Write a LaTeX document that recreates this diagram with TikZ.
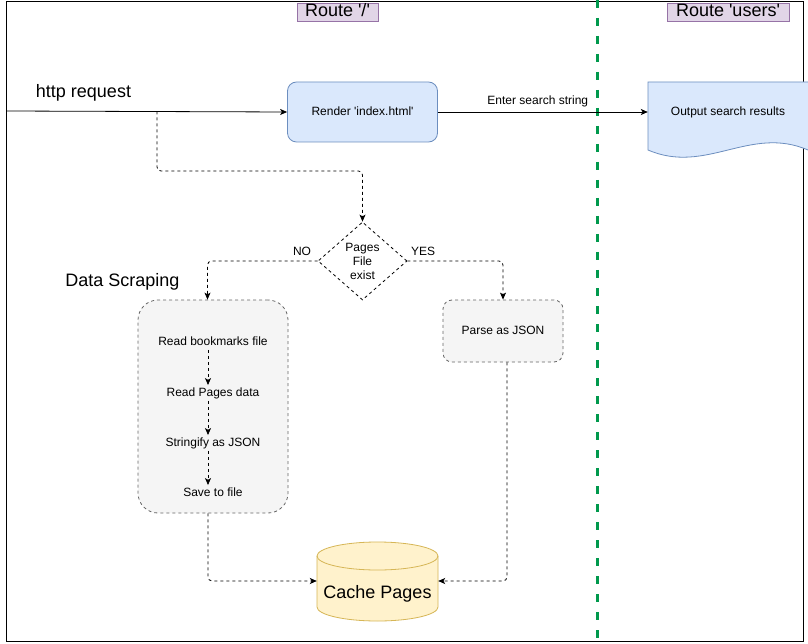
\documentclass[tikz,border=0pt]{standalone}
\usepackage{fontspec}
\setmainfont{Liberation Sans}[Ligatures=TeXOff]
\usetikzlibrary{shapes.geometric,arrows.meta}
\definecolor{bluefill}{HTML}{DAE8FC}
\definecolor{bluedraw}{HTML}{6C8EBF}
\definecolor{yelfill}{HTML}{FFF2CC}
\definecolor{yeldraw}{HTML}{D6B656}
\definecolor{purfill}{HTML}{E1D5E7}
\definecolor{purdraw}{HTML}{9673A6}
\definecolor{grayfill}{HTML}{F5F5F5}
\definecolor{graydraw}{HTML}{666666}
\definecolor{lanegreen}{HTML}{00994D}
\tikzset{
  small/.style={font=\fontsize{12}{14}\selectfont, text height=9pt, text depth=2.5pt, inner sep=2pt},
  big/.style={font=\fontsize{18}{21}\selectfont, inner sep=0pt},
  routebox/.style={big, draw=purdraw, fill=purfill, line width=0.8pt, minimum height=18pt, text height=12.5pt, text depth=3pt},
  bluebox/.style={small, draw=bluedraw, fill=bluefill, line width=0.8pt, rounded corners=9pt},
  graybox/.style={draw=graydraw, fill=grayfill, line width=0.8pt, dash pattern=on 3pt off 3pt},
  tip/.style={-{Stealth[length=7pt,width=6pt,inset=1.8pt]}},
  solidarrow/.style={tip, line width=0.8pt, black},
  dasharrow/.style={tip, line width=0.8pt, black, dash pattern=on 3pt off 3pt, rounded corners=4pt},
}
\begin{document}
\begin{tikzpicture}[x=1pt,y=-1pt]
\useasboundingbox (0,0) rectangle (808,644);
\fill[white] (0,0) rectangle (808,644);
% frame
\draw[line width=0.9pt] (6.5,1) rectangle (803,641);
% lane divider
\draw[lanegreen, line width=3pt, dash pattern=on 8pt off 10pt] (597,0) -- (597,641);
% route labels
\node[routebox, minimum width=81pt] (r1) at (337.5,12) {Route '/'};
\node[routebox, minimum width=122pt] (r2) at (728,12) {Route 'users'};
% output document shape
\fill[bluefill] (648,82) -- (812,82) -- (812,150) -- (808,150) .. controls (750,125) and (706,175) .. (648,150) -- cycle;
\draw[bluedraw, line width=0.8pt] (812,82) -- (648,82) -- (648,150) .. controls (706,175) and (750,125) .. (808,150) -- (812,150);
\node[small, minimum width=160pt, minimum height=60pt] (doc) at (728,112) {Output search results};
% render
\node[bluebox, minimum width=150pt, minimum height=60pt] (render) at (362.5,112) {Render 'index.html'};
% http request
\node[big] (http) at (83.5,93) {http request};
\coordinate (start) at (6.5,111);
\coordinate (split) at (157,111.5);
\draw[solidarrow] (start) -- (render.west);
\draw[solidarrow] (render.east) -- node[small, above=3pt, pos=0.476] (enter) {Enter search string} (doc.west);
% decision
\node[diamond, draw, line width=0.8pt, dash pattern=on 3pt off 3pt, fill=white, minimum width=89pt, minimum height=78pt, inner sep=0pt] (dia) at (362.5,261) {};
\node[font=\fontsize{12}{14}\selectfont, align=center, inner sep=0pt] (dialbl) at (dia) {Pages\\File\\exist};
\draw[dasharrow] (split) -- ++(0,59.5) -| (dia.north);
% data scraping
\node[big] (dslbl) at (122.5,282) {Data Scraping};
\node[graybox, rounded corners=20pt, minimum width=150pt, minimum height=213pt] (scrape) at (213,406.5) {};
\node[small] (t1) at (213,342) {Read bookmarks file};
\node[small] (t2) at (213,393) {Read Pages data};
\node[small] (t3) at (213,443) {Stringify as JSON};
\node[small] (t4) at (213,493) {Save to file};
\draw[dasharrow] ([xshift=-5pt]t1.south) -- ([xshift=-5pt]t2.north);
\draw[dasharrow] ([xshift=-5pt]t2.south) -- ([xshift=-5pt]t3.north);
\draw[dasharrow] ([xshift=-5pt]t3.south) -- ([xshift=-5pt]t4.north);
% parse
\node[graybox, small, rounded corners=9pt, minimum width=120pt, minimum height=62pt] (parse) at (503,331) {Parse as JSON};
% branches
\draw[dasharrow] (dia.west) -| ([xshift=-5.5pt]scrape.north);
\draw[dasharrow] (dia.east) -| (parse.north);
\node[small] (no) at (302,252) {NO};
\node[small] (yes) at (423,252) {YES};
% cache cylinder
\fill[yelfill] (317,556) -- (317,607) arc[start angle=180, end angle=360, x radius=60.5pt, y radius=14pt] -- (438,556) arc[start angle=0, end angle=180, x radius=60.5pt, y radius=14pt] -- cycle;
\draw[yeldraw, line width=0.8pt] (317,556) -- (317,607) arc[start angle=180, end angle=360, x radius=60.5pt, y radius=14pt] -- (438,556) arc[start angle=0, end angle=180, x radius=60.5pt, y radius=14pt];
\draw[yeldraw, line width=0.8pt] (317,556) arc[start angle=180, end angle=360, x radius=60.5pt, y radius=14pt];
\node[minimum width=121pt, minimum height=79pt, inner sep=0pt] (cache) at (377.5,581) {};
\node[big] (cachelbl) at (377.5,594) {Cache Pages};
\draw[dasharrow] ([xshift=-5pt]scrape.south) |- (cache.west);
\draw[dasharrow] ([xshift=4pt]parse.south) |- (cache.east);
\end{tikzpicture}
\end{document}
